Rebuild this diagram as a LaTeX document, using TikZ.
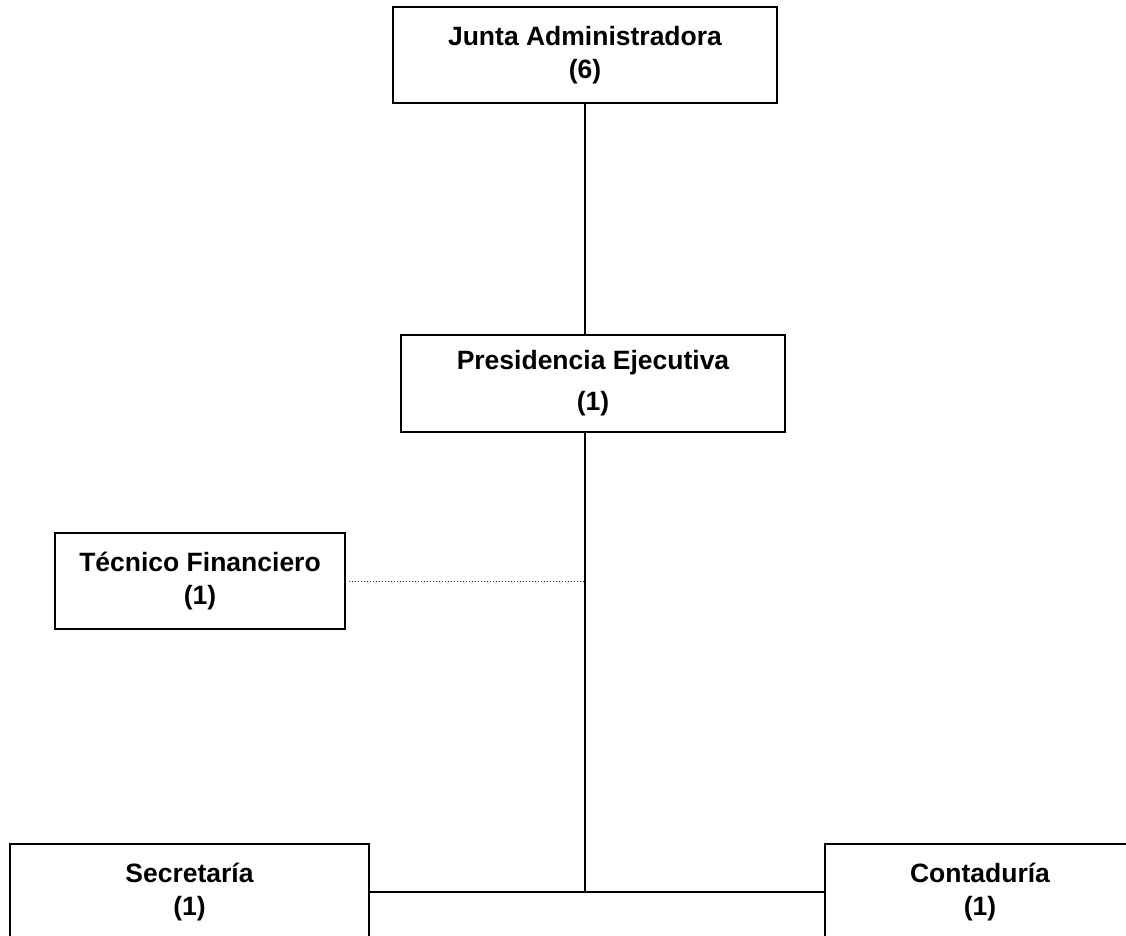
\documentclass[tikz,border=0pt]{standalone}
\usepackage{fontspec}
\setmainfont{Liberation Sans}
\begin{document}
\begin{tikzpicture}[x=1pt,y=-1pt,
  orgbox/.style={draw=black, line width=1.6pt, fill=white, inner sep=0pt, align=center,
    font=\bfseries\fontsize{26.5}{33}\selectfont},
  link/.style={draw=black, line width=1.6pt},
  dotlink/.style={draw=black!75, line width=1pt, dash pattern=on 1.6pt off 1.4pt}]
\useasboundingbox (0,0) rectangle (1126,936);
\node[orgbox, minimum width=384pt, minimum height=96pt] (junta) at (585,55) {Junta Administradora\\(6)};
\node[orgbox, minimum width=384pt, minimum height=97pt] (pres) at (593,383.5) {Presidencia Ejecutiva\\[8pt](1)};
\node[orgbox, minimum width=290pt, minimum height=96pt] (tec) at (200,581) {Técnico Financiero\\(1)};
\node[orgbox, minimum width=359pt, minimum height=96pt] (sec) at (189.5,892) {Secretaría\\(1)};
\node[orgbox, minimum width=310pt, minimum height=96pt] (cont) at (980,892) {Contaduría\\(1)};
\coordinate (hub) at (585,892);
\draw[link] (junta.south) -- (junta.south |- pres.north);
\draw[link] (junta.south |- pres.south) -- (hub);
\draw[link] (sec.east) -- (cont.west);
\draw[dotlink, shorten <=3pt] (tec.east) -- (tec.east -| hub);
\end{tikzpicture}
\end{document}
